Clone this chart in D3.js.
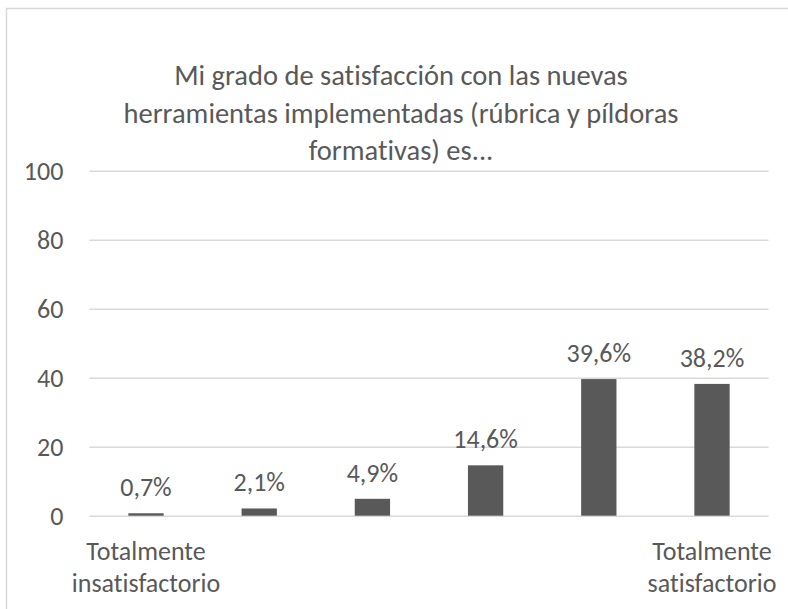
<!DOCTYPE html>
<html>
<head>
<meta charset="utf-8">
<script src="https://cdn.jsdelivr.net/npm/d3@7"></script>
<style>
  html, body { margin: 0; padding: 0; background: #fff; }
  svg { display: block; }
  text { font-family: Carlito, Lato, "Open Sans", sans-serif; fill: #595959; font-variant-ligatures: none; font-feature-settings: "liga" 0, "clig" 0; }
</style>
</head>
<body>
<svg id="chart" width="788" height="609"></svg>
<script>
const titleLines = ["Mi grado de satisfacción con las nuevas",
                    "herramientas implementadas (rúbrica y píldoras",
                    "formativas) es..."];
const categories = ["Totalmente insatisfactorio", "2", "3", "4", "5", "Totalmente satisfactorio"];
const categoryLabels = [["Totalmente", "insatisfactorio"], [], [], [], [], ["Totalmente", "satisfactorio"]];
const values = [0.7, 2.1, 4.9, 14.6, 39.6, 38.2];
const valueLabels = ["0,7%", "2,1%", "4,9%", "14,6%", "39,6%", "38,2%"];
const yTicks = [0, 20, 40, 60, 80, 100];

const svg = d3.select("#chart");

// chart area border
svg.append("rect")
  .attr("x", 6.5).attr("y", 8.5)
  .attr("width", 790).attr("height", 610)
  .attr("fill", "#fff").attr("stroke", "#d9d9d9").attr("stroke-width", 1.5);

// title
svg.append("text")
  .attr("text-anchor", "middle")
  .style("font-size", "28.5px")
  .selectAll("tspan").data(titleLines).join("tspan")
  .attr("x", 401)
  .attr("y", (d, i) => 85 + i * 37.5)
  .text(d => d);

const x = d3.scaleBand().domain(categories).range([89.4, 768.6])
  .paddingInner(0.688).paddingOuter(0.344);
const y = d3.scaleLinear().domain([0, 100]).range([515.7, 170.7]);

// gridlines + y labels via axis
const yAxis = d3.axisLeft(y).tickValues(yTicks).tickSize(-(768.6 - 89.4)).tickPadding(26)
  .tickFormat(d3.format("d"));
const gy = svg.append("g").attr("transform", "translate(89.4,0)").call(yAxis);
gy.select(".domain").remove();
gy.selectAll(".tick line").attr("stroke", "#d9d9d9").attr("stroke-width", 1.5);
gy.selectAll(".tick text").style("font-size", "26px").attr("fill", "#595959")
  .style("font-family", "Carlito, Lato, sans-serif");

// bars
svg.append("g").selectAll("rect").data(values).join("rect")
  .attr("x", (d, i) => x(categories[i]))
  .attr("width", x.bandwidth())
  .attr("y", d => y(d))
  .attr("height", d => y(0) - y(d))
  .attr("fill", "#595959");

// data labels
svg.append("g").selectAll("text").data(values).join("text")
  .attr("x", (d, i) => x(categories[i]) + x.bandwidth() / 2)
  .attr("y", d => y(d) - 17)
  .attr("text-anchor", "middle")
  .style("font-size", "26px")
  .text((d, i) => valueLabels[i]);

// category labels
const cat = svg.append("g").selectAll("text").data(categoryLabels).join("text")
  .attr("text-anchor", "middle")
  .style("font-size", "26px");
cat.selectAll("tspan").data((d, i) => d.map(t => ({t, i}))).join("tspan")
  .attr("x", d => x(categories[d.i]) + x.bandwidth() / 2)
  .attr("y", (d, j) => 560 + j * 32)
  .text(d => d.t);
</script>
</body>
</html>
